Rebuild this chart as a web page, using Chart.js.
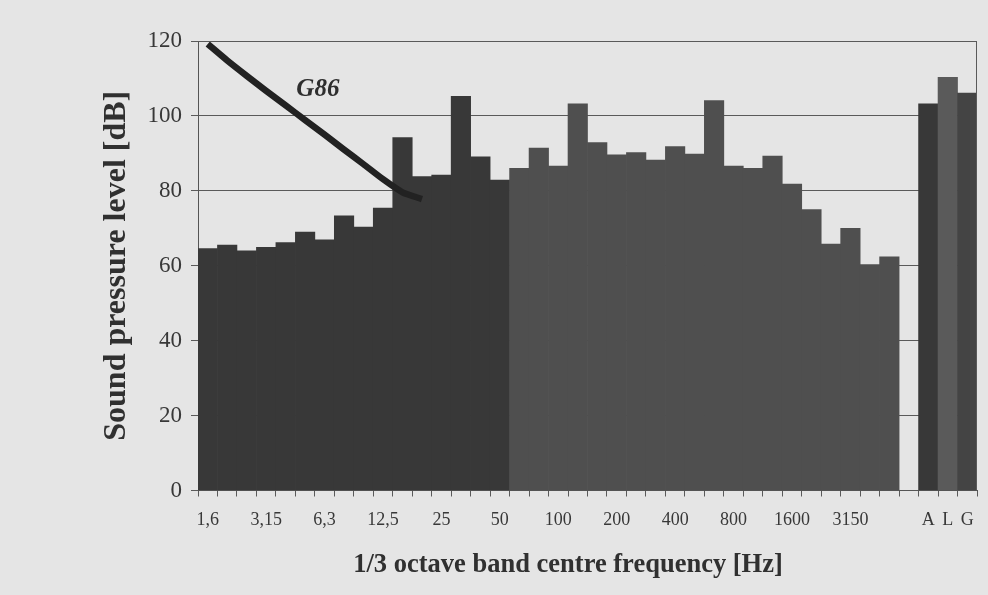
<!DOCTYPE html>
<html>
<head>
<meta charset="utf-8">
<script src="https://cdn.jsdelivr.net/npm/chart.js@4/dist/chart.umd.min.js"></script>
<style>
  html, body { margin: 0; padding: 0; background: #e5e5e5; }
  #wrap { width: 988px; height: 595px; position: relative; }
</style>
</head>
<body>
<div id="wrap"><canvas id="splChart" width="988" height="595"></canvas></div>
<script>
// 1/3 octave band centre frequencies (36 bands), then a gap, then the weighted totals
const bands = ["1,6", "2", "2,5", "3,15", "4", "5", "6,3", "8", "10", "12,5", "16", "20",
  "25", "31,5", "40", "50", "63", "80", "100", "125", "160", "200", "250", "315",
  "400", "500", "630", "800", "1000", "1250", "1600", "2000", "2500", "3150", "4000", "5000"];
const totals = ["A", "L", "G"];
const shownLabels = ["1,6", "3,15", "6,3", "12,5", "25", "50", "100", "200", "400", "800", "1600", "3150", "A", "L", "G"];

// band levels in dB
const bandLevels = [64.6, 65.5, 64.0, 64.9, 66.2, 69.0, 66.9, 73.3, 70.3, 75.4, 94.2, 83.8,
  84.2, 105.2, 89.1, 82.9, 86.0, 91.4, 86.6, 103.2, 92.9, 89.6, 90.2, 88.2,
  91.8, 89.8, 104.1, 86.6, 86.0, 89.3, 81.8, 75.0, 65.8, 70.0, 60.3, 62.4];
const totalLevels = [103.2, 110.3, 106.1];

// G86 curve, first 12 bands
const g86 = [119.2, 114.8, 110.7, 106.7, 102.8, 98.9, 95.0, 91.0, 87.1, 83.1, 79.6, 77.8];

const yTicks = [0, 20, 40, 60, 80, 100, 120];

const labels = bands.concat([""], totals);
const barData = bandLevels.concat([null], totalLevels);
const lineData = g86.concat(new Array(labels.length - g86.length).fill(null));

const dark = "#383838", mid = "#4f4f4f";
const barColors = labels.map((l, i) => {
  if (l === "A") return dark;
  if (l === "L") return "#5a5a5a";
  if (l === "G") return "#444";
  return i < 16 ? dark : mid;
});

const serif = "'Liberation Serif', 'DejaVu Serif', serif";

const frame = {
  id: "frame",
  beforeDraw(chart) {
    const c = chart.ctx;
    c.save();
    c.fillStyle = "#e5e5e5";
    c.fillRect(0, 0, chart.width, chart.height);
    c.restore();
  },
  afterDatasetsDraw(chart) {
    const c = chart.ctx, a = chart.chartArea;
    c.save();
    c.strokeStyle = "#5a5a5a";
    c.lineWidth = 1;
    c.beginPath();
    c.moveTo(a.left, a.top + 0.5);
    c.lineTo(a.right - 0.5, a.top + 0.5);
    c.lineTo(a.right - 0.5, a.bottom);
    c.stroke();
    const x = chart.scales.x, y = chart.scales.y;
    // curve label
    c.fillStyle = "#2e2e2e";
    c.font = "italic bold 25px " + serif;
    c.textAlign = "center";
    c.textBaseline = "middle";
    c.fillText("G86", (x.getPixelForValue(5) + x.getPixelForValue(6)) / 2 + 3, y.getPixelForValue(107));
    // x axis title, centred under the band bars
    c.fillStyle = "#303030";
    c.font = "bold 26.5px " + serif;
    c.fillText("1/3 octave band centre frequency [Hz]", (x.getPixelForValue(18) + x.getPixelForValue(19)) / 2, 565);
    c.restore();
  }
};

new Chart(document.getElementById("splChart").getContext("2d"), {
  data: {
    labels: labels,
    datasets: [
      {
        type: "line",
        label: "G86",
        data: lineData,
        borderColor: "#222",
        borderWidth: 6.5,
        pointRadius: 0,
        tension: 0.2,
        spanGaps: false,
        order: 0
      },
      {
        type: "bar",
        label: "Level",
        data: barData,
        backgroundColor: barColors,
        borderWidth: 0,
        barPercentage: 1,
        categoryPercentage: 1,
        order: 1
      }
    ]
  },
  options: {
    responsive: false,
    animation: false,
    layout: { padding: { left: 98, right: 11, top: 41, bottom: 16 } },
    plugins: { legend: { display: false }, tooltip: { enabled: false } },
    scales: {
      x: {
        offset: true,
        grid: { display: true, drawOnChartArea: false, offset: true, tickLength: 6, color: "#5a5a5a" },
        border: { color: "#555" },
        ticks: {
          autoSkip: false, maxRotation: 0, padding: 13,
          color: "#383838", font: { family: serif, size: 18 },
          callback: function (v) { const l = this.getLabelForValue(v); return shownLabels.includes(l) ? l : ""; }
        },
        afterFit: s => { s.height = 88.5; }
      },
      y: {
        min: 0, max: 120,
        afterBuildTicks: s => { s.ticks = yTicks.map(v => ({ value: v })); },
        grid: { color: "#5a5a5a", lineWidth: 1, tickLength: 7 },
        border: { color: "#555" },
        ticks: { color: "#383838", padding: 9, font: { family: serif, size: 23 } },
        title: {
          display: true, text: "Sound pressure level [dB]",
          color: "#303030", font: { family: serif, size: 32, weight: "bold" }, padding: 0
        },
        afterFit: s => { s.width = 100; }
      }
    }
  },
  plugins: [frame]
});
</script>
</body>
</html>
